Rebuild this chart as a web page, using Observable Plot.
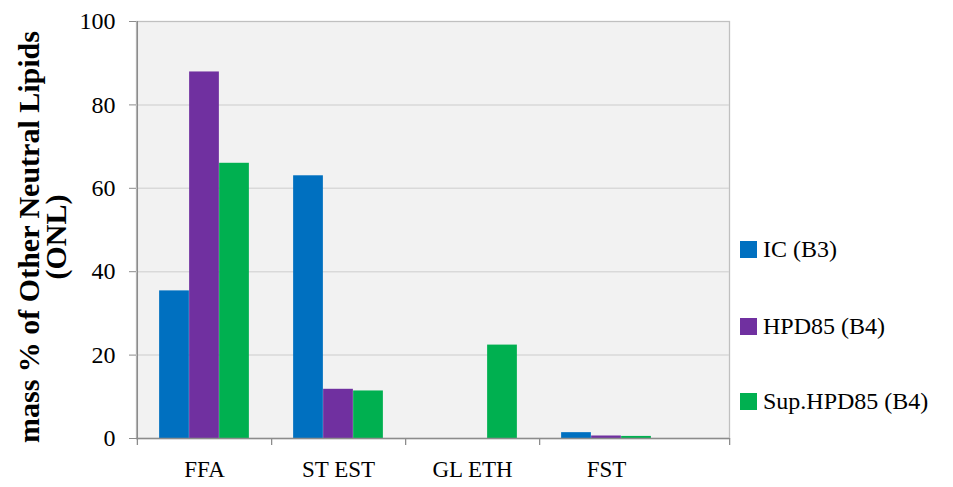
<!DOCTYPE html>
<html>
<head>
<meta charset="utf-8">
<script src="https://cdn.jsdelivr.net/npm/d3@7"></script>
<script src="https://cdn.jsdelivr.net/npm/@observablehq/plot@0.6"></script>
<style>
  html, body { margin: 0; padding: 0; background: #fff; }
  #wrap { position: relative; width: 953px; height: 487px; font-family: "Liberation Serif", serif; }
  #ytitle { position: absolute; left: 42px; top: 237px; transform: translate(-50%, -50%) rotate(-90deg);
    font-weight: bold; font-size: 30px; line-height: 27px; text-align: center; white-space: nowrap; color: #000; }
  #legend { position: absolute; left: 740px; top: 0; }
  .li { position: absolute; left: 0; display: flex; align-items: center; white-space: nowrap; font-size: 24px; color: #000; }
  .sw { width: 17px; height: 17px; margin-right: 6px; }
</style>
</head>
<body>
<div id="wrap">
  <div id="chart"></div>
  <div id="ytitle">mass % of Other Neutral Lipids<br>(ONL)</div>
  <div id="legend"></div>
</div>
<script>
const categories = ["FFA", "ST EST", "GL ETH", "FST"];
const seriesNames = ["IC (B3)", "HPD85 (B4)", "Sup.HPD85 (B4)"];
const icB3 = [35.4, 63.0, 0, 1.4];
const hpd85B4 = [87.9, 11.8, 0, 0.6];
const supHpd85B4 = [66.0, 11.4, 22.4, 0.5];
const colors = ["#0070C0", "#7030A0", "#00B050"];
const yTicks = [0, 20, 40, 60, 80, 100];

const seriesValues = [icB3, hpd85B4, supHpd85B4];
const rows = [];
seriesNames.forEach((s, i) => categories.forEach((c, j) => rows.push({category: c, series: s, si: i, value: seriesValues[i][j]})));

const W = 953, H = 487;
const mL = 136, mR = W - 729, mT = 21, mB = H - 438;
const xRange = [136, 673];
const bw = (xRange[1] - xRange[0]) / categories.length;
const barW = 30, groupOff = (bw - barW * 3) / 2;
const pxPerUnit = (438 - 21) / 100;
const tickLen = 7 / pxPerUnit;

const barMarks = seriesNames.map((s, i) =>
  Plot.rectY(rows.filter(d => d.series === s), {
    x: "category", y: "value", fill: colors[i],
    insetLeft: groupOff + barW * i, insetRight: bw - (groupOff + barW * (i + 1))
  })
);

const chart = Plot.plot({
  width: W, height: H,
  marginLeft: mL, marginRight: mR, marginTop: mT, marginBottom: mB,
  style: {fontFamily: "Liberation Serif, serif", background: "white", color: "black"},
  x: {type: "band", domain: categories, range: xRange, padding: 0, label: null},
  y: {domain: [0, 100], label: null},
  marks: [
    Plot.frame({fill: "#f2f2f2", stroke: "#c0c0c0", strokeWidth: 1.3}),
    Plot.ruleY([20, 40, 60, 80], {stroke: "#d9d9d9", strokeWidth: 1.5}),
    ...barMarks,
    Plot.ruleY([0], {stroke: "#8c8c8c", strokeWidth: 1.5}),
    Plot.ruleX([categories[0]], {dx: -bw / 2, y1: -tickLen, y2: 100, stroke: "#8c8c8c", strokeWidth: 1.3}),
    Plot.ruleX(categories.slice(0, 3), {dx: bw / 2, y1: -tickLen, y2: 0, stroke: "#8c8c8c", strokeWidth: 1.3}),
    Plot.ruleX([categories[3]], {dx: bw / 2 + (729 - 673), y1: -tickLen, y2: 0, stroke: "#8c8c8c", strokeWidth: 1.3}),
    Plot.axisY({ticks: yTicks, tickSize: 7, tickPadding: 14, fontSize: 24, stroke: "#8c8c8c", fill: "black", label: null}),
    Plot.axisX({tickSize: 0, tickPadding: 22, fontSize: 23, fill: "black", label: null})
  ]
});
document.getElementById("chart").appendChild(chart);

const legendY = [249, 326, 401];
const legend = document.getElementById("legend");
seriesNames.forEach((s, i) => {
  const li = document.createElement("div");
  li.className = "li";
  li.style.top = (legendY[i] - 15) + "px";
  li.style.height = "30px";
  li.innerHTML = `<div class="sw" style="background:${colors[i]}"></div><span>${s}</span>`;
  legend.appendChild(li);
});
</script>
</body>
</html>
